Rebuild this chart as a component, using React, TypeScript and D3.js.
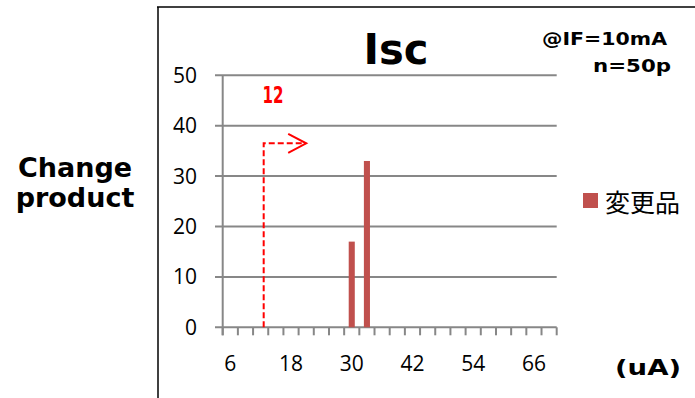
import React from 'react';
import * as d3 from 'd3';

// histogram bins (uA) and counts for the changed product
const categories = [6, 9, 12, 15, 18, 21, 24, 27, 30, 33, 36, 39, 42, 45, 48, 51, 54, 57, 60, 63, 66, 69];
const counts = [0, 0, 0, 0, 0, 0, 0, 0, 17, 33, 0, 0, 0, 0, 0, 0, 0, 0, 0, 0, 0, 0];
const yTicks = [0, 10, 20, 30, 40, 50];
const xTickLabels = [6, 18, 30, 42, 54, 66];
const seriesName = '変更品';
const specLimit = 12;
const arrowLevel = 36.5;

const W = 695;
const H = 398;
const left = 222.7;
const right = 556.7;
const top = 75.3;
const bottom = 327.3;

const gridColor = '#878787';
const barColor = '#C0504D';
const labelFont = '"Open Sans", "Liberation Sans", sans-serif';
const boldFont = '"DejaVu Sans", Verdana, sans-serif';

const App: React.FC = () => {
  const x = d3.scaleBand<number>()
    .domain(categories)
    .range([left, right])
    .paddingInner(0.6)
    .paddingOuter(0.3);
  const y = d3.scaleLinear().domain([0, 50]).range([bottom, top]);

  const step = x.step();
  const bw = x.bandwidth();
  const boundaries = d3.range(categories.length + 1).map(i => left + i * step);

  // spec limit marker
  const sx = (x(specLimit) as number) + bw;
  const sy = y(arrowLevel);
  const ax = sx + step * 2.8;

  return (
    <div style={{ position: 'absolute', left: 0, top: 0 }}>
      <svg width={W} height={H} viewBox={`0 0 ${W} ${H}`} style={{ display: 'block', background: '#fff' }}>
        {/* outer frame */}
        <line x1={158} y1={7} x2={158} y2={H} stroke="#404040" strokeWidth={2} />
        <line x1={157} y1={7} x2={W} y2={7} stroke="#000" strokeWidth={1.5} />

        {/* gridlines */}
        {yTicks.map(t => (
          <line key={`g${t}`} x1={215} x2={right} y1={y(t)} y2={y(t)} stroke={gridColor} strokeWidth={2} />
        ))}
        {/* y axis */}
        <line x1={left} x2={left} y1={top} y2={bottom + 8} stroke={gridColor} strokeWidth={2} />
        {/* x ticks */}
        {boundaries.map((b, i) => (
          <line key={`xt${i}`} x1={b} x2={b} y1={bottom} y2={bottom + 8} stroke={gridColor} strokeWidth={2} />
        ))}

        {/* bars */}
        {categories.map((c, i) => counts[i] > 0 ? (
          <rect key={`b${c}`} x={x(c)} y={y(counts[i])} width={bw} height={y(0) - y(counts[i])} fill={barColor} />
        ) : null)}

        {/* y labels */}
        {yTicks.map(t => (
          <text key={`yl${t}`} x={197} y={y(t)} dy="0.36em" textAnchor="end" fontFamily={labelFont} fontSize={21} fill="#000">{t}</text>
        ))}
        {/* x labels */}
        {xTickLabels.map(v => (
          <text key={`xl${v}`} x={(x(v) as number) + bw / 2} y={371} textAnchor="middle" fontFamily={labelFont} fontSize={21} fill="#000">{v}</text>
        ))}

        {/* spec limit annotation */}
        <path d={`M${sx},${bottom} L${sx},${sy} L${ax},${sy}`} fill="none" stroke="#FF0000" strokeWidth={2} strokeDasharray="6,3" />
        <path d={`M${ax - 18},${sy - 9.5} L${ax},${sy} L${ax - 18},${sy + 9.5}`} fill="none" stroke="#FF0000" strokeWidth={2} />
        <text x={273} y={103} textAnchor="middle" fontFamily={boldFont} fontWeight="bold" fontSize={23} textLength={21} lengthAdjust="spacingAndGlyphs" fill="#FF0000">{specLimit}</text>

        {/* title and notes */}
        <text x={396} y={64} textAnchor="middle" fontFamily={boldFont} fontWeight="bold" fontSize={42} textLength={65} lengthAdjust="spacingAndGlyphs" fill="#000">Isc</text>
        <text x={667} y={45} textAnchor="end" fontFamily={boldFont} fontWeight="bold" fontSize={18.5} textLength={125} lengthAdjust="spacingAndGlyphs" fill="#000">@IF=10mA</text>
        <text x={671} y={72} textAnchor="end" fontFamily={boldFont} fontWeight="bold" fontSize={18.5} textLength={78} lengthAdjust="spacingAndGlyphs" fill="#000">n=50p</text>

        {/* axis titles */}
        <text x={75} y={177} textAnchor="middle" fontFamily={boldFont} fontWeight="bold" fontSize={27} fill="#000">Change</text>
        <text x={75} y={207} textAnchor="middle" fontFamily={boldFont} fontWeight="bold" fontSize={27} fill="#000">product</text>
        <text x={648} y={375} textAnchor="middle" fontFamily={boldFont} fontWeight="bold" fontSize={21} textLength={66} lengthAdjust="spacingAndGlyphs" fill="#000">(uA)</text>

        {/* legend */}
        <rect x={583} y={193} width={15} height={15} fill={barColor} />
        <text x={605} y={201} dominantBaseline="central" fontFamily='"Noto Sans CJK JP", sans-serif' fontSize={25} fill="#000">{seriesName}</text>
      </svg>
    </div>
  );
};

export default App;
